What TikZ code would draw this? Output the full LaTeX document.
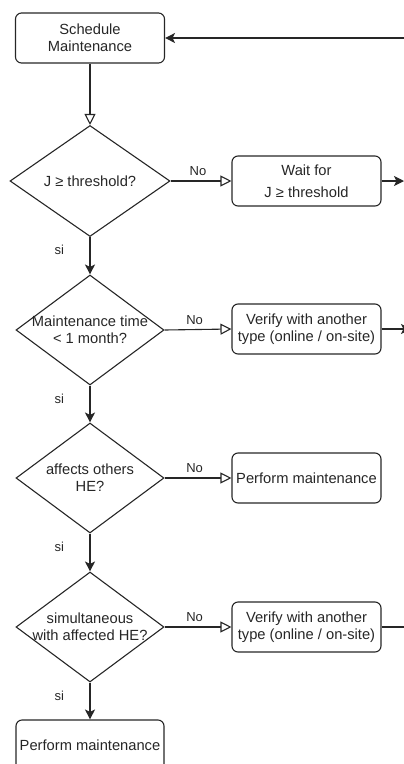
\documentclass[tikz,border=0pt]{standalone}
\usepackage{fontspec}
\setmainfont{Liberation Sans}
\usetikzlibrary{shapes.geometric,arrows.meta}
\begin{document}
\begin{tikzpicture}[x=1pt,y=-1pt,
  line width=1.1pt, draw=black!85,
  boxn/.style={draw=black!85, rounded corners=6pt, minimum width=149pt, minimum height=50pt, inner sep=0pt, align=center,
    font=\fontsize{14.7}{17}\selectfont, text=black!85},
  dia/.style={draw=black!85, diamond, inner sep=0pt, minimum width=148pt, minimum height=110pt},
  dtext/.style={align=center, font=\fontsize{14.7}{17}\selectfont, text=black!85},
  lab/.style={font=\fontsize{13}{15}\selectfont, text=black!85},
  fa/.style={-{Stealth[length=10pt,width=10pt,inset=2.5pt]}},
  oa/.style={-{Triangle[open,length=11pt,width=11pt]}, line join=miter}
]
\useasboundingbox (0,0) rectangle (404,764);
\clip (0,0) rectangle (404,764);

\node[boxn] (sched) at (90,38) {Schedule\\Maintenance};
\node[dia, minimum width=160pt, minimum height=111pt] (d1) at (90,181) {};
\node[dtext] (t1) at (d1.center) {J ≥ threshold?};
\node[boxn] (w1) at (306.5,181) {Wait for\\[5pt]J ≥ threshold};

\node[dia] (d2) at (90,330) {};
\node[dtext] (t2) at (d2.center) {Maintenance time\\< 1 month?};
\node[boxn] (v1) at (306.5,329) {Verify with another\\type (online / on-site)};

\node[dia] (d3) at (90,478) {};
\node[dtext] (t3) at (d3.center) {affects others\\HE?};
\node[boxn] (p1) at (306.5,478) {Perform maintenance};

\node[dia] (d4) at (90,627) {};
\node[dtext] (t4) at (d4.center) {simultaneous\\with affected HE?};
\node[boxn] (v2) at (306.5,627) {Verify with another\\type (online / on-site)};

\node[boxn, minimum width=148pt] (p2) at (90,745) {Perform maintenance};

\coordinate (in1) at (412,38);
\coordinate (out1) at (404,181);
\coordinate (out2) at (411,329);
\coordinate (out3) at (412,627);

\draw[fa] (in1) -- (sched.east);
\draw[oa] (sched.south) -- (d1.north);

\draw[oa] (d1.east) -- node[lab, above=1pt, pos=0.45] (n1) {No} (w1.west);
\draw[fa] (w1.east) -- (out1);
\draw[fa] (d1.south) -- node[lab, left=22pt, pos=0.35] (s1) {si} (d2.north);

\draw[oa] (d2.east) -- node[lab, above=1pt, pos=0.45] (n2) {No} (v1.west);
\draw[fa] (v1.east) -- (out2);
\draw[fa] (d2.south) -- node[lab, left=22pt, pos=0.35] (s2) {si} (d3.north);

\draw[oa] (d3.east) -- node[lab, above=1pt, pos=0.45] (n3) {No} (p1.west);
\draw[fa] (d3.south) -- node[lab, left=22pt, pos=0.35] (s3) {si} (d4.north);

\draw[oa] (d4.east) -- node[lab, above=1pt, pos=0.45] (n4) {No} (v2.west);
\draw (v2.east) -- (out3);
\draw[fa] (d4.south) -- node[lab, left=22pt, pos=0.35] (s4) {si} (p2.north);
\end{tikzpicture}
\end{document}
